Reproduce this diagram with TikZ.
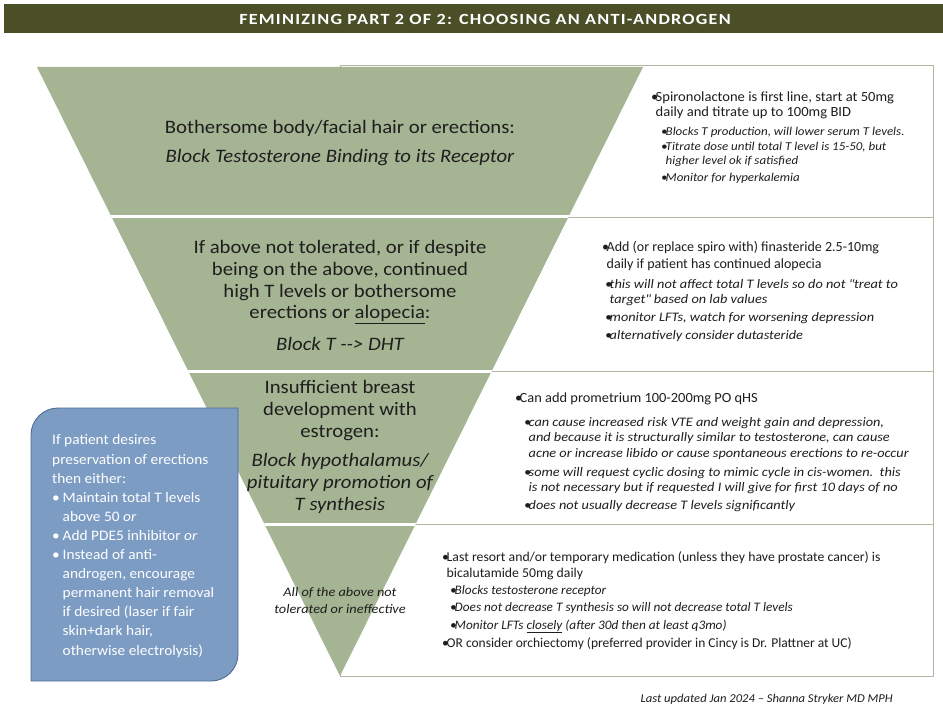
\documentclass[tikz,border=0pt]{standalone}
\usepackage{fontspec}
\setmainfont{Carlito}
\definecolor{olivebar}{RGB}{74,79,40}
\definecolor{trifill}{RGB}{165,180,146}
\definecolor{boxline}{RGB}{178,183,163}
\definecolor{bluefill}{RGB}{124,156,196}
\definecolor{blueline}{RGB}{79,109,150}
\definecolor{ink}{RGB}{30,30,30}
\newcommand{\bul}{\makebox[4.5pt][l]{\textbullet}}
\newcommand{\bbul}{\makebox[10.5pt][l]{\textbullet}}
\newcommand{\fsz}[3]{\fontsize{#1}{#2}\selectfont\addfontfeatures{FakeStretch=#3}}
\begin{document}
\begin{tikzpicture}[x=1pt,y=-1pt,
  titletxt/.style={text=white,inner sep=0pt,font=\fontsize{15.5}{18}\selectfont\bfseries\addfontfeatures{LetterSpace=8,FakeStretch=1.17}},
  rbox/.style={draw=boxline,line width=0.9pt,fill=white},
  bandtxt/.style={text=ink,inner sep=0pt,align=center,anchor=base,font=\fsz{19}{22}{1.09}},
  bandit/.style={bandtxt,font=\itshape\fsz{19}{22}{1.09}},
  mainitem/.style={text=ink,inner sep=0pt,align=left,anchor=base west},
  subitem/.style={text=ink,inner sep=0pt,align=left,anchor=base west},
  bluetxt/.style={text=white,inner sep=0pt,align=left,anchor=base west,font=\fsz{14.5}{19.1}{1.06}}]
\useasboundingbox (0,0) rectangle (943,714);
\fill[white] (0,0) rectangle (943,714);
% title bar
\fill[olivebar] (4,4) rectangle (943,33);
\node[titletxt] (title) at (485,19) {FEMINIZING PART 2 OF 2: CHOOSING AN ANTI-ANDROGEN};
% right boxes
\draw[rbox] (340,65) rectangle (933,217);
\draw[rbox] (340,217) rectangle (933,371);
\draw[rbox] (340,371) rectangle (933,524);
\draw[rbox] (340,524) rectangle (933,676);
% inverted triangle
\fill[trifill] (37,67) -- (643,67) -- (340,676) -- cycle;
\begin{scope}
\clip (37,67) -- (643,67) -- (340,676) -- cycle;
\draw[white,line width=3pt] (0,217) -- (700,217);
\draw[white,line width=3pt] (0,371) -- (700,371);
\draw[white,line width=3pt] (0,524) -- (700,524);
\end{scope}
% band texts (anchored at the baseline of the last line)
\node[bandtxt] (t1a) at (340,134) {Bothersome body/facial hair or erections:};
\node[bandit] (t1b) at (340,163) {Block Testosterone Binding to its Receptor};
\node[bandtxt] (t2a) at (340,319) {If above not tolerated, or if despite\\being on the above, continued\\high T levels or bothersome\\erections or \underline{alopecia}:};
\node[bandit] (t2b) at (340,350) {Block T -{}-{}> DHT};
\node[bandtxt] (t3a) at (340,437) {Insufficient breast\\development with\\estrogen:};
\node[bandit] (t3b) at (340,510) {Block hypothalamus/\\pituitary promotion of\\T synthesis};
\node[bandit,font=\itshape\fsz{13}{17}{1.1}] (t4) at (340,613) {All of the above not\\tolerated or ineffective};
% box 1
\node[mainitem,font=\fsz{14}{15}{1.04}] (b1a) at (651,117) {\bul Spironolactone is first line, start at 50mg\\\hspace*{4.5pt}daily and titrate up to 100mg BID};
\node[subitem,font=\itshape\fsz{12}{14}{1.08}] (b1b) at (661,136) {\bul Blocks T production, will lower serum T levels.};
\node[subitem,font=\itshape\fsz{12}{14}{1.08}] (b1c) at (661,165) {\bul Titrate dose until total T level is 15-50, but\\\hspace*{4.5pt}higher level ok if satisfied};
\node[subitem,font=\itshape\fsz{12}{14}{1.08}] (b1d) at (661,182) {\bul Monitor for hyperkalemia};
% box 2
\node[mainitem,font=\fsz{14}{17}{1.0}] (b2a) at (602,269) {\bul Add (or replace spiro with) finasteride 2.5-10mg\\\hspace*{4.5pt}daily if patient has continued alopecia};
\node[subitem,font=\itshape\fsz{13}{15}{1.1}] (b2b) at (605,304) {\bul this will not affect total T levels so do not \textquotedbl treat to\\\hspace*{4.5pt}target\textquotedbl{} based on lab values};
\node[subitem,font=\itshape\fsz{13}{15}{1.1}] (b2c) at (605,322) {\bul monitor LFTs, watch for worsening depression};
\node[subitem,font=\itshape\fsz{13}{15}{1.1}] (b2d) at (605,339) {\bul alternatively consider dutasteride};
% box 3
\node[mainitem,font=\fsz{14}{16}{1.03}] (b3a) at (515,402) {\bul Can add prometrium 100-200mg PO qHS};
\node[subitem,font=\itshape\fsz{13}{15.5}{1.1}] (b3b) at (524,457) {\bul can cause increased risk VTE and weight gain and depression,\\\hspace*{4.5pt}and because it is structurally similar to testosterone, can cause\\\hspace*{4.5pt}acne or increase libido or cause spontaneous erections to re-occur};
\node[subitem,font=\itshape\fsz{13}{15}{1.1}] (b3c) at (524,491) {\bul some will request cyclic dosing to mimic cycle in cis-women.\ \ this\\\hspace*{4.5pt}is not necessary but if requested I will give for first 10 days of no};
\node[subitem,font=\itshape\fsz{13}{15}{1.1}] (b3d) at (524,509) {\bul does not usually decrease T levels significantly};
% box 4
\node[mainitem,font=\fsz{13.5}{16}{1.02}] (b4a) at (442,577) {\bul Last resort and/or temporary medication (unless they have prostate cancer) is\\\hspace*{4.5pt}bicalutamide 50mg daily};
\node[subitem,font=\itshape\fsz{13}{15}{1.02}] (b4b) at (450,594) {\bul Blocks testosterone receptor};
\node[subitem,font=\itshape\fsz{13}{15}{1.02}] (b4c) at (450,611) {\bul Does not decrease T synthesis so will not decrease total T levels};
\node[subitem,font=\itshape\fsz{13}{15}{1.02}] (b4d) at (450,629) {\bul Monitor LFTs \underline{closely} (after 30d then at least q3mo)};
\node[mainitem,font=\fsz{13.5}{16}{1.0}] (b4e) at (442,647) {\bul OR consider orchiectomy (preferred provider in Cincy is Dr. Plattner at UC)};
% blue box
\draw[fill=bluefill,draw=blueline,line width=0.9pt] (31,681) -- (31,435) arc[start angle=180,end angle=270,radius=27] -- (238,408) -- (238,654) arc[start angle=0,end angle=90,radius=27] -- cycle;
\node[bluetxt] (blue) at (52,655) {If patient desires\\preservation of erections\\then either:\\\bbul Maintain total T levels\\\hspace*{10.5pt}above 50 \textit{or}\\\bbul Add PDE5 inhibitor \textit{or}\\\bbul Instead of anti-\\\hspace*{10.5pt}androgen, encourage\\\hspace*{10.5pt}permanent hair removal\\\hspace*{10.5pt}if desired (laser if fair\\\hspace*{10.5pt}skin+dark hair,\\\hspace*{10.5pt}otherwise electrolysis)};
% footer
\node[text=ink,inner sep=0pt,anchor=base east,font=\itshape\fsz{12}{14}{1.05}] (foot) at (893,702) {Last updated Jan 2024 -- Shanna Stryker MD MPH};
\end{tikzpicture}
\end{document}
